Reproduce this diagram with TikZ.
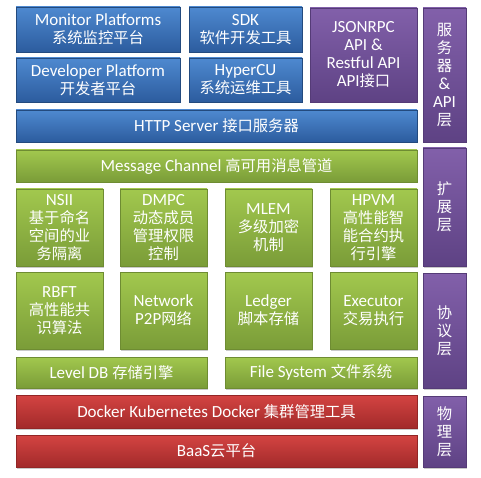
\documentclass[tikz,border=0pt]{standalone}
\usepackage{fontspec}
\setmainfont{Carlito}
\newfontfamily\cjk[Scale=0.9]{Noto Sans CJK SC}
\usetikzlibrary{shadows}
\definecolor{bluetop}{RGB}{78,137,208}
\definecolor{bluebot}{RGB}{44,92,158}
\definecolor{greentop}{RGB}{162,200,78}
\definecolor{greenbot}{RGB}{122,156,56}
\definecolor{redtop}{RGB}{212,68,66}
\definecolor{redbot}{RGB}{162,42,42}
\definecolor{purptop}{RGB}{130,96,170}
\definecolor{purpbot}{RGB}{94,66,132}
\tikzset{
  layerbox/.style={inner sep=0pt, text=white, align=center,
    font=\fontsize{17}{18}\selectfont,
    drop shadow={shadow xshift=1.2pt, shadow yshift=-1.5pt, opacity=0.35, fill=black!60}},
  bluebox/.style={layerbox, top color=bluetop, bottom color=bluebot, draw=bluebot!80!black, line width=0.4pt},
  greenbox/.style={layerbox, top color=greentop, bottom color=greenbot, draw=greenbot!90!black, line width=0.4pt},
  redbox/.style={layerbox, top color=redtop, bottom color=redbot, draw=redbot!90!black, line width=0.4pt},
  purpbox/.style={layerbox, top color=purptop, bottom color=purpbot, draw=purpbot!90!black, line width=0.4pt},
}
\begin{document}
\begin{tikzpicture}[x=1pt,y=-1pt]
\useasboundingbox (0,0) rectangle (481,478);
% API / server layer
\node[bluebox, minimum width=164pt, minimum height=45pt] (mon) at (98,29.5) {Monitor Platforms\\{\cjk 系统监控平台}};
\node[bluebox, minimum width=113pt, minimum height=45pt] (sdk) at (245.5,29.5) {SDK\\{\cjk 软件开发工具}};
\node[bluebox, minimum width=164pt, minimum height=44pt] (dev) at (98,80) {Developer Platform\\{\cjk 开发者平台}};
\node[bluebox, minimum width=113pt, minimum height=44pt] (hyp) at (245.5,80) {HyperCU\\{\cjk 系统运维工具}};
\node[purpbox, minimum width=107pt, minimum height=94pt] (json) at (363.5,55) {JSONRPC\\API \&\\Restful API\\API{\cjk 接口}};
\node[bluebox, minimum width=401pt, minimum height=32pt] (http) at (216.5,126) {HTTP Server {\cjk 接口服务器}};
\node[purpbox, minimum width=43pt, minimum height=134pt] (srv) at (444.5,75) {{\cjk 服}\\{\cjk 务}\\{\cjk 器}\\\&\\API\\{\cjk 层}};
% extension layer
\node[greenbox, minimum width=401pt, minimum height=32pt] (msg) at (216.5,166) {Message Channel {\cjk 高可用消息管道}};
\node[purpbox, minimum width=43pt, minimum height=118pt] (ext) at (444.5,207) {{\cjk 扩}\\{\cjk 展}\\{\cjk 层}};
\node[greenbox, minimum width=87pt, minimum height=77pt] (nsii) at (59.5,227.5) {NSII\\{\cjk 基于命名}\\{\cjk 空间的业}\\{\cjk 务隔离}};
\node[greenbox, minimum width=87pt, minimum height=77pt] (dmpc) at (163.5,227.5) {DMPC\\{\cjk 动态成员}\\{\cjk 管理权限}\\{\cjk 控制}};
\node[greenbox, minimum width=87pt, minimum height=77pt] (mlem) at (268.5,227.5) {MLEM\\{\cjk 多级加密}\\{\cjk 机制}};
\node[greenbox, minimum width=87pt, minimum height=77pt] (hpvm) at (373.5,227.5) {HPVM\\{\cjk 高性能智}\\{\cjk 能合约执}\\{\cjk 行引擎}};
% protocol layer
\node[greenbox, minimum width=87pt, minimum height=77pt] (rbft) at (59.5,310.5) {RBFT\\{\cjk 高性能共}\\{\cjk 识算法}};
\node[greenbox, minimum width=87pt, minimum height=77pt] (net) at (163.5,310.5) {Network\\P2P{\cjk 网络}};
\node[greenbox, minimum width=87pt, minimum height=77pt] (ledger) at (268.5,310.5) {Ledger\\{\cjk 脚本存储}};
\node[greenbox, minimum width=87pt, minimum height=77pt] (exec) at (373.5,310.5) {Executor\\{\cjk 交易执行}};
\node[greenbox, minimum width=191pt, minimum height=31pt] (ldb) at (111.5,372.5) {Level DB {\cjk 存储引擎}};
\node[greenbox, minimum width=192pt, minimum height=31pt] (fs) at (321,372.5) {File System {\cjk 文件系统}};
\node[purpbox, minimum width=43pt, minimum height=115pt] (proto) at (444.5,330.5) {{\cjk 协}\\{\cjk 议}\\{\cjk 层}};
% physical layer
\node[redbox, minimum width=401pt, minimum height=33pt] (docker) at (216.5,411.5) {Docker Kubernetes Docker {\cjk 集群管理工具}};
\node[redbox, minimum width=401pt, minimum height=32pt] (baas) at (216.5,451) {BaaS{\cjk 云平台}};
\node[purpbox, minimum width=43pt, minimum height=71pt] (phys) at (444.5,431.5) {{\cjk 物}\\{\cjk 理}\\{\cjk 层}};
\end{tikzpicture}
\end{document}
